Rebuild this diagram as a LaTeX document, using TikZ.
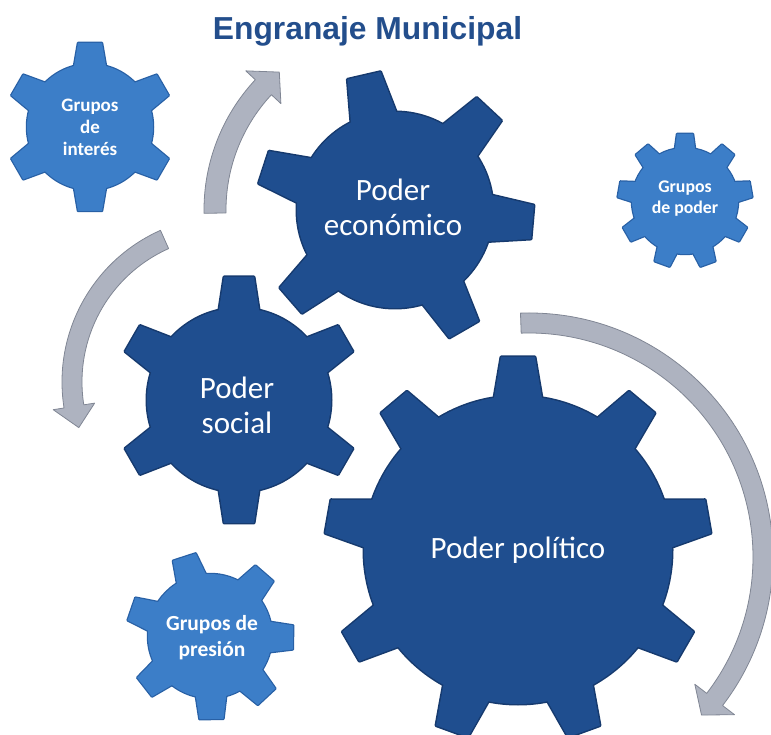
\documentclass[tikz,border=0pt]{standalone}
\usepackage{fontspec}
\setmainfont{Carlito}
\newfontfamily\titlefont{Liberation Sans}
\usepackage{tikz}
\usetikzlibrary{calc}
\usepackage{xcolor}

\definecolor{gearblue}{RGB}{31,78,143}
\definecolor{gearblueedge}{RGB}{22,58,110}
\definecolor{smallblue}{RGB}{60,126,200}
\definecolor{smallblueedge}{RGB}{40,96,165}
\definecolor{swirlgrey}{RGB}{174,179,192}
\definecolor{swirledge}{RGB}{128,134,148}
\definecolor{titleblue}{RGB}{35,78,140}

% one gear: style, centre, body radius, tip radius, half width at root, half width at tip, tooth angles
\newcommand{\gearshape}[7]{%
    \path[#1] (#2) circle (#3);
    \foreach \a in {#7}
        \path[#1] ($(#2)+(\a:#3-8)+(\a-90:#5)$) -- ($(#2)+(\a:#4)+(\a-90:#6)$)
            -- ($(#2)+(\a:#4)+(\a+90:#6)$) -- ($(#2)+(\a:#3-8)+(\a+90:#5)$) -- cycle;
}

% curved arrow: centre, radius, half width, tail angle, head angle, tip angle, head half width
\newcommand{\swirlarrow}[7]{%
    \path[swirl] ($(#1)+(#4:#2+#3)$) arc[start angle=#4, end angle=#5, radius=#2+#3]
        -- ($(#1)+(#5:#2+#7)$) -- ($(#1)+(#6:#2)$) -- ($(#1)+(#5:#2-#7)$)
        -- ($(#1)+(#5:#2-#3)$) arc[start angle=#5, end angle=#4, radius=#2-#3] -- cycle;
}

\begin{document}
\begin{tikzpicture}[x=1pt, y=1pt,
        darkgear/.style={fill=gearblue},
        darkrim/.style={draw=gearblueedge, line width=3pt, line join=round},
        lightgear/.style={fill=smallblue},
        lightrim/.style={draw=smallblueedge, line width=2.5pt, line join=round},
        swirl/.style={fill=swirlgrey, draw=swirledge, line width=0.8pt, line join=round},
        bigtext/.style={text=white, align=center, font=\fontsize{31}{35}\selectfont},
        smalltext/.style={text=white, align=center, font=\bfseries\fontsize{19}{22}\selectfont}]

    \useasboundingbox (0,0) rectangle (771,734);

    \coordinate (c-interes) at (90,607);
    \coordinate (c-economico) at (395,524);
    \coordinate (c-social) at (239,334);
    \coordinate (c-politico) at (518,184);
    \coordinate (c-poder) at (685,533);
    \coordinate (c-presion) at (210,98);
    \coordinate (c-left) at (228,352);
    \coordinate (c-right) at (529,177);

    \node[anchor=base, text=titleblue, font=\titlefont\bfseries\fontsize{31.8}{36}\selectfont] (title) at (367.5,694) {Engranaje Municipal};

    % arrows
    \swirlarrow{c-economico}{180}{11}{181}{137}{130}{24}
    \swirlarrow{c-left}{156}{10}{114}{189}{197}{21}
    \swirlarrow{c-right}{234}{10}{92}{-37.5}{-42.5}{25}

    % gears
    \gearshape{lightrim}{c-interes}{63}{84}{17}{12}{90,150,210,270,330,30}
    \gearshape{lightgear}{c-interes}{63}{84}{17}{12}{90,150,210,270,330,30}

    \gearshape{darkrim}{c-economico}{98}{138}{24}{17}{103,47,-5,-60,-139,162}
    \gearshape{darkgear}{c-economico}{98}{138}{24}{17}{103,47,-5,-60,-139,162}

    \gearshape{lightrim}{c-poder}{53}{67}{11}{8}{90,50,10,-30,-70,-110,-150,-190,-230}
    \gearshape{lightgear}{c-poder}{53}{67}{11}{8}{90,50,10,-30,-70,-110,-150,-190,-230}

    \gearshape{darkrim}{c-social}{92}{123}{21}{15}{90,30,-30,-90,-150,150}
    \gearshape{darkgear}{c-social}{92}{123}{21}{15}{90,30,-30,-90,-150,150}

    \gearshape{darkrim}{c-politico}{154}{193}{25}{17}{90,50,10,-30,-70,-110,-150,-190,-230}
    \gearshape{darkgear}{c-politico}{154}{193}{25}{17}{90,50,10,-30,-70,-110,-150,-190,-230}

    \gearshape{lightrim}{c-presion}{62}{83}{16}{12}{108,49,-1,-47,-89,-142,161}
    \gearshape{lightgear}{c-presion}{62}{83}{16}{12}{108,49,-1,-47,-89,-142,161}

    % labels
    \node[smalltext] (interes) at (c-interes) {Grupos\\de\\interés};
    \node[bigtext] (economico) at ($(c-economico)+(-2,3)$) {Poder\\económico};
    \node[smalltext, font=\bfseries\fontsize{17.8}{21}\selectfont] (poder) at ($(c-poder)+(0,2)$) {Grupos\\de poder};
    \node[bigtext] (social) at ($(c-social)+(-2,-5)$) {Poder\\social};
    \node[bigtext] (politico) at (c-politico) {Poder político};
    \node[smalltext, font=\bfseries\fontsize{21.5}{26}\selectfont] (presion) at ($(c-presion)+(2,-2)$) {Grupos de\\presión};
\end{tikzpicture}
\end{document}
